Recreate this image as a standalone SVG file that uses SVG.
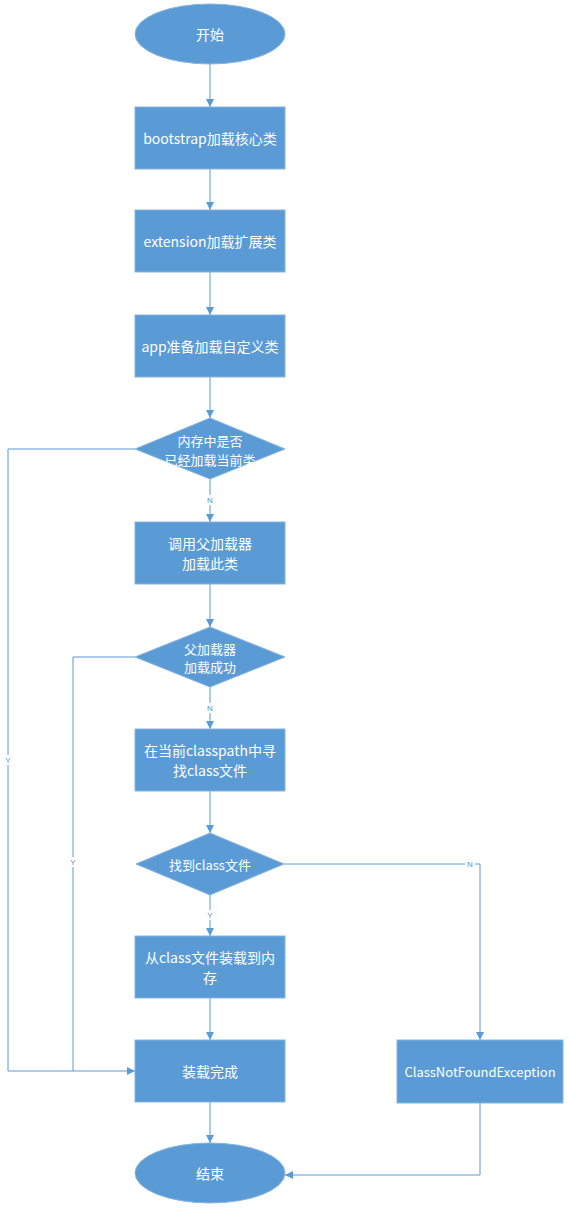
<svg xmlns="http://www.w3.org/2000/svg" width="569" height="1215" viewBox="0 0 569 1215">
<defs>
<style>
.n{fill:#5B9BD5;stroke:#86B4E0;stroke-width:1}
.t{fill:#fff;font-family:"Noto Sans CJK SC","Noto Sans",sans-serif;font-size:14px;text-anchor:middle;dominant-baseline:central}
.s{font-size:13px}
.c{fill:none;stroke:#5B9BD5;stroke-width:1}
.l{fill:#5B8FC9;font-family:"Liberation Sans",sans-serif;font-size:8px;text-anchor:middle;dominant-baseline:central}
.lb{fill:#fff}
</style>
<marker id="a" viewBox="0 0 10 10" refX="10" refY="5" markerWidth="8" markerHeight="8" markerUnits="userSpaceOnUse" orient="auto">
<path d="M0,0L10,5L0,10z" fill="#5B9BD5"/>
</marker>
</defs>
<rect width="569" height="1215" fill="#fff"/>
<g id="connectors">
<path class="c" d="M210,64V107" marker-end="url(#a)"/>
<path class="c" d="M210,169V210" marker-end="url(#a)"/>
<path class="c" d="M210,272V315" marker-end="url(#a)"/>
<path class="c" d="M210,377V418" marker-end="url(#a)"/>
<path class="c" d="M210,479V522" marker-end="url(#a)"/>
<path class="c" d="M210,584V627" marker-end="url(#a)"/>
<path class="c" d="M210,687V729" marker-end="url(#a)"/>
<path class="c" d="M210,791V833" marker-end="url(#a)"/>
<path class="c" d="M210,895V936" marker-end="url(#a)"/>
<path class="c" d="M210,998V1040" marker-end="url(#a)"/>
<path class="c" d="M210,1102V1143" marker-end="url(#a)"/>
<path class="c" d="M135,449H8V1071H135" marker-end="url(#a)"/>
<path class="c" d="M135,657H73V1071"/>
<path class="c" d="M284,864H480V1040" marker-end="url(#a)"/>
<path class="c" d="M480,1103V1175H285" marker-end="url(#a)"/>
<rect class="lb" x="205" y="495" width="10" height="10"/>
<text class="l" x="210" y="500">N</text>
<rect class="lb" x="205" y="703" width="10" height="10"/>
<text class="l" x="210" y="708">N</text>
<rect class="lb" x="205" y="910" width="10" height="10"/>
<text class="l" x="210" y="915">Y</text>
<rect class="lb" x="3" y="755" width="10" height="10"/>
<text class="l" x="8" y="760">Y</text>
<rect class="lb" x="68" y="857" width="10" height="10"/>
<text class="l" x="73" y="862">Y</text>
<rect class="lb" x="465" y="859" width="10" height="10"/>
<text class="l" x="470" y="864">N</text>
</g>
<g id="start"><ellipse class="n" cx="210" cy="34" rx="75" ry="30"/><text class="t" x="210" y="34">开始</text></g>
<g id="bootstrap"><rect class="n" x="135" y="107" width="150" height="62"/><text class="t" x="210" y="138">bootstrap加载核心类</text></g>
<g id="extension"><rect class="n" x="135" y="210" width="150" height="62"/><text class="t" x="210" y="241">extension加载扩展类</text></g>
<g id="app"><rect class="n" x="135" y="315" width="150" height="62"/><text class="t" x="210" y="346">app准备加载自定义类</text></g>
<g id="d1"><path class="n" d="M210,418L285,449L210,479L135,449Z"/><text class="t s" x="210" y="440">内存中是否</text><text class="t s" x="210" y="459">已经加载当前类</text></g>
<g id="parent"><rect class="n" x="135" y="522" width="150" height="62"/><text class="t" x="210" y="543">调用父加载器</text><text class="t" x="210" y="563">加载此类</text></g>
<g id="d2"><path class="n" d="M210,627L285,657L210,687L135,657Z"/><text class="t s" x="210" y="648">父加载器</text><text class="t s" x="210" y="666">加载成功</text></g>
<g id="find"><rect class="n" x="135" y="729" width="150" height="62"/><text class="t" x="210" y="750">在当前classpath中寻</text><text class="t" x="210" y="770">找class文件</text></g>
<g id="d3"><path class="n" d="M210,833L284,864L210,895L136,864Z"/><text class="t s" x="210" y="864">找到class文件</text></g>
<g id="load"><rect class="n" x="135" y="936" width="150" height="62"/><text class="t" x="210" y="957">从class文件装载到内</text><text class="t" x="210" y="977">存</text></g>
<g id="done"><rect class="n" x="135" y="1040" width="150" height="62"/><text class="t" x="210" y="1071">装载完成</text></g>
<g id="cnfe"><rect class="n" x="397" y="1040" width="166" height="63"/><text class="t s" x="480" y="1071">ClassNotFoundException</text></g>
<g id="end"><ellipse class="n" cx="210" cy="1173" rx="75" ry="30"/><text class="t" x="210" y="1173">结束</text></g>
</svg>
